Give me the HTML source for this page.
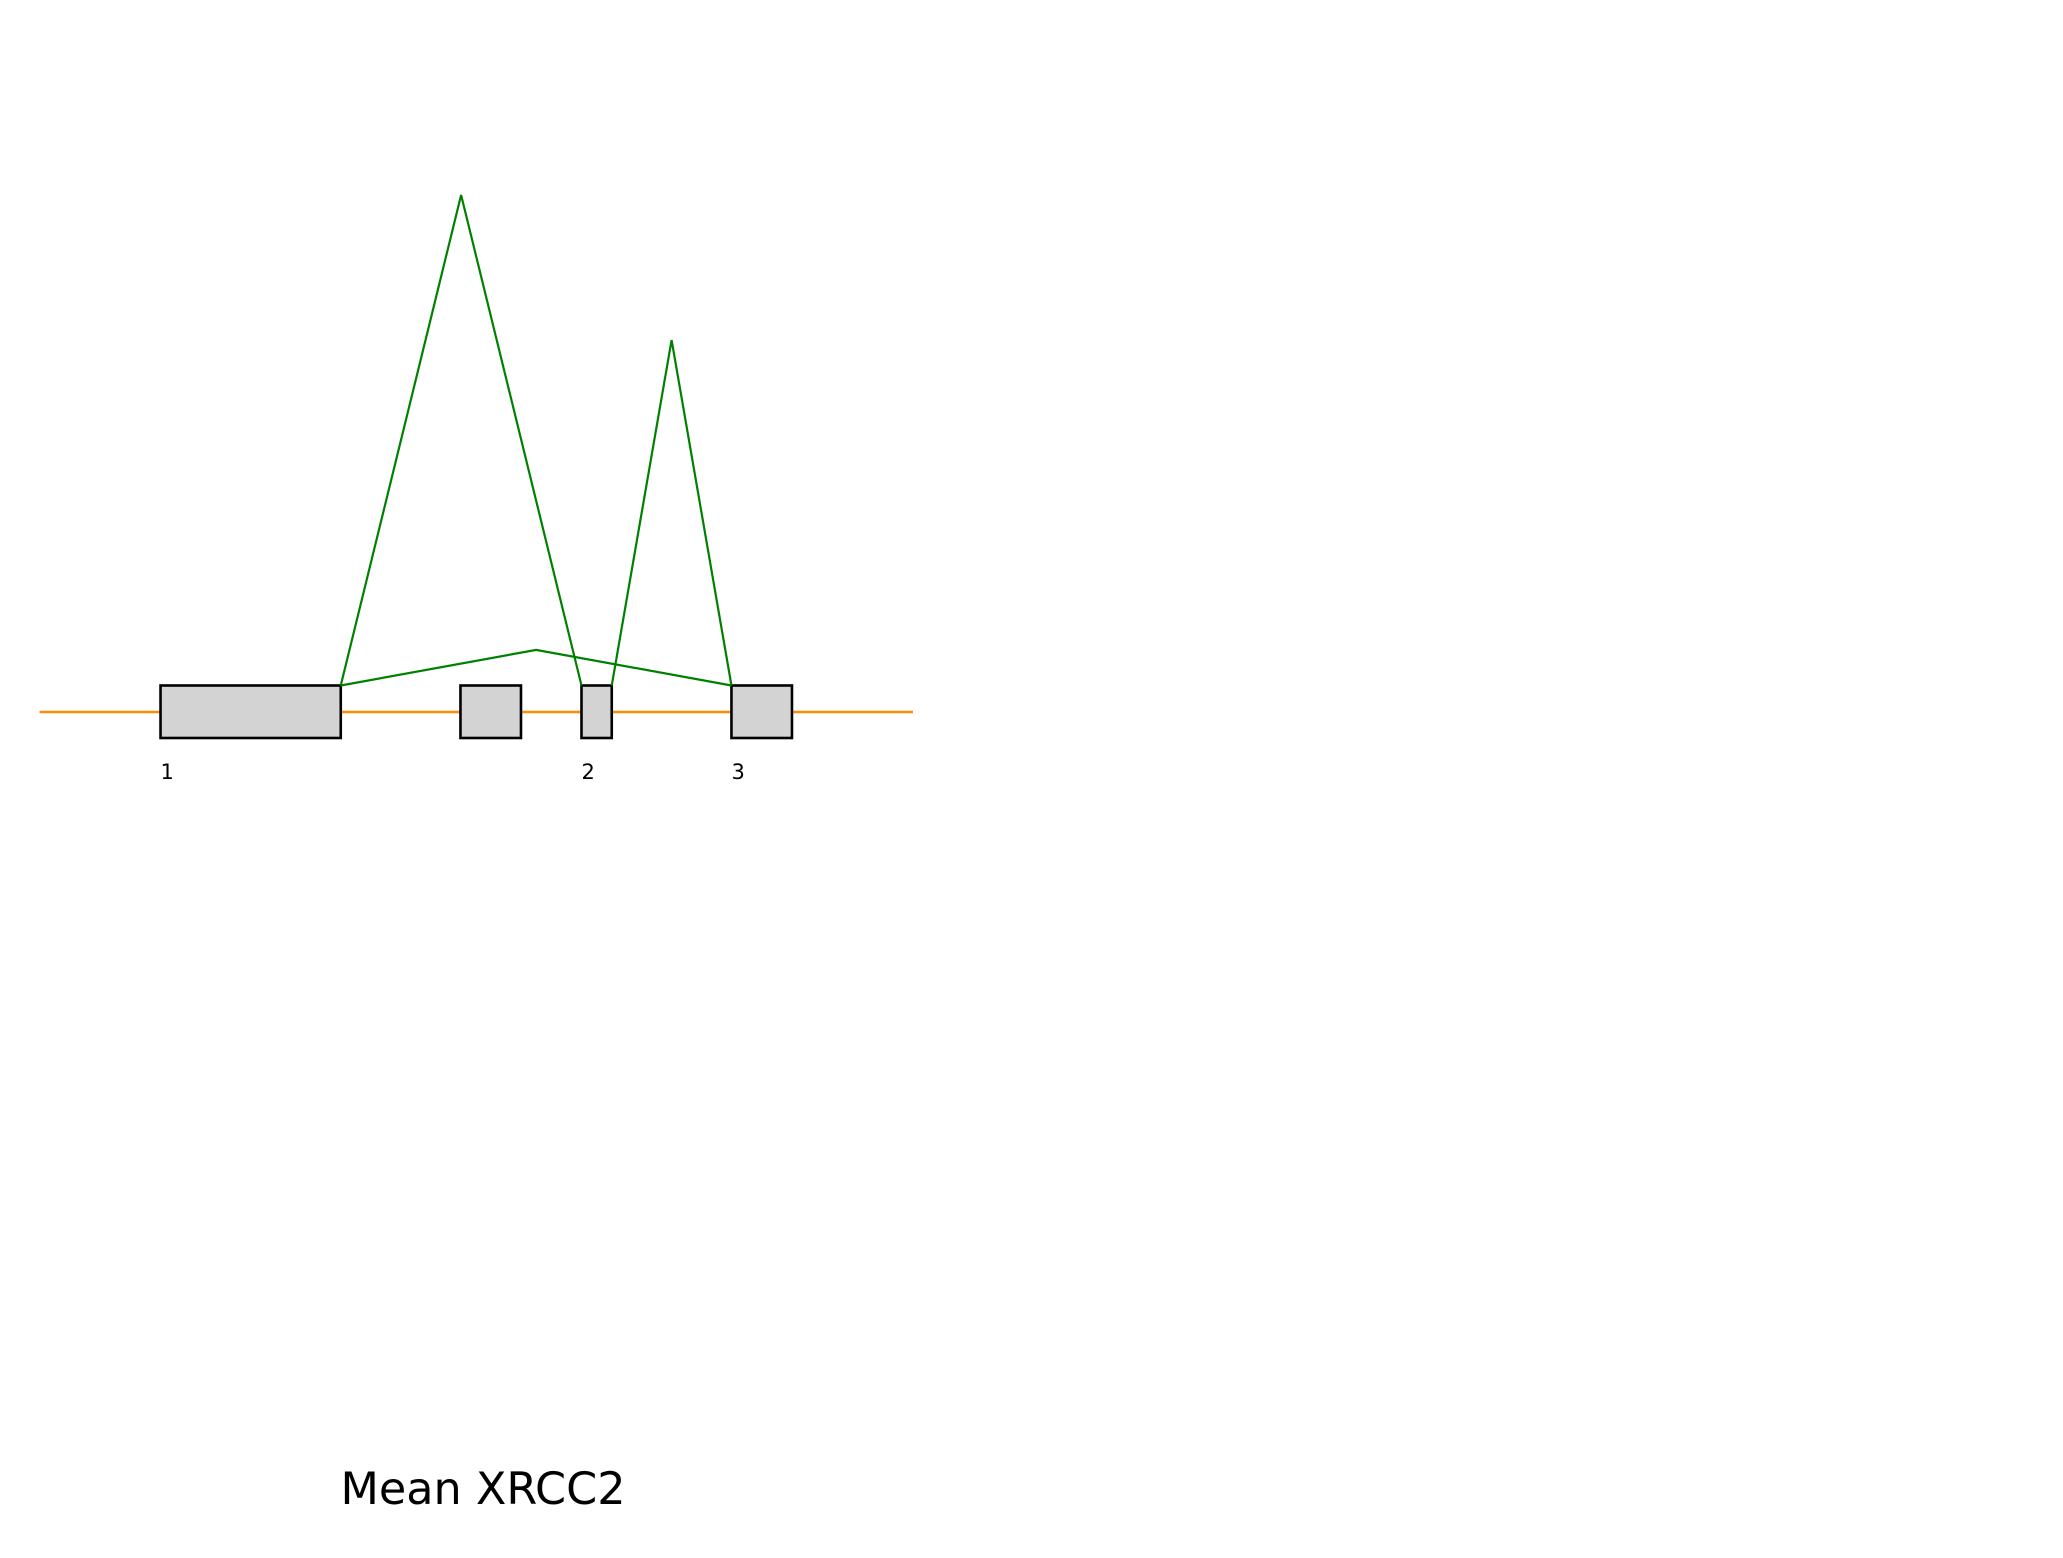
<!DOCTYPE html>
<html><head><meta charset="utf-8"><style>
html,body{margin:0;padding:0;background:#fff;}
svg{display:block;font-family:"DejaVu Sans","Liberation Sans",sans-serif;}
</style></head><body>
<svg id="chart" width="2063" height="1558" viewBox="0 0 2063 1558">
<rect width="2063" height="1558" fill="#fff"/>
<g id="plot"></g>
<text x="483" y="1504" font-size="44.5" text-anchor="middle">Mean XRCC2</text>
</svg>
<script>
const geneRange = [0, 664];
const exonStarts = [92, 320, 412, 526];
const exonEnds = [229, 366, 435, 572];
const exonLabels = ["1", "", "2", "3"];
const junctionFrom = [229, 435, 229];
const junctionTo = [412, 526, 526];
const junctionHeights = [372, 262, 27];
const heightMax = 372;

const X0 = 39.5, X1 = 913;
const xs = v => X0 + (v - geneRange[0]) / (geneRange[1] - geneRange[0]) * (X1 - X0);
const baseY = 685.5, topY = 195;
const ys = h => baseY - h / heightMax * (baseY - topY);
const NS = "http://www.w3.org/2000/svg";
const g = document.getElementById('plot');
function mk(tag, attrs){ const e = document.createElementNS(NS, tag); for (const k in attrs) e.setAttribute(k, attrs[k]); g.appendChild(e); return e; }

const line = mk('line', {x1: xs(geneRange[0]), x2: xs(geneRange[1]), y1: 712, y2: 712, stroke: '#ff8c00', 'stroke-width': 2.6});



for (let i = 0; i < exonStarts.length; i++) {
  const r = mk('rect', {x: xs(exonStarts[i]), y: baseY, width: xs(exonEnds[i]) - xs(exonStarts[i]), height: 52.5, fill: '#d3d3d3', stroke: '#000', 'stroke-width': 2.6});
  
  
  if (exonLabels[i]) {
    const t = mk('text', {x: xs(exonStarts[i]), y: 779, 'font-size': 21});
    t.textContent = exonLabels[i];
    
    
  }
}

for (let j = 0; j < junctionFrom.length; j++) {
  const a = xs(junctionFrom[j]), b = xs(junctionTo[j]);
  const p = mk('polyline', {points: `${a},${baseY} ${(a + b) / 2},${ys(junctionHeights[j])} ${b},${baseY}`, fill: 'none', stroke: 'green', 'stroke-width': 2.2});
  
  
}
</script>
</body></html>
